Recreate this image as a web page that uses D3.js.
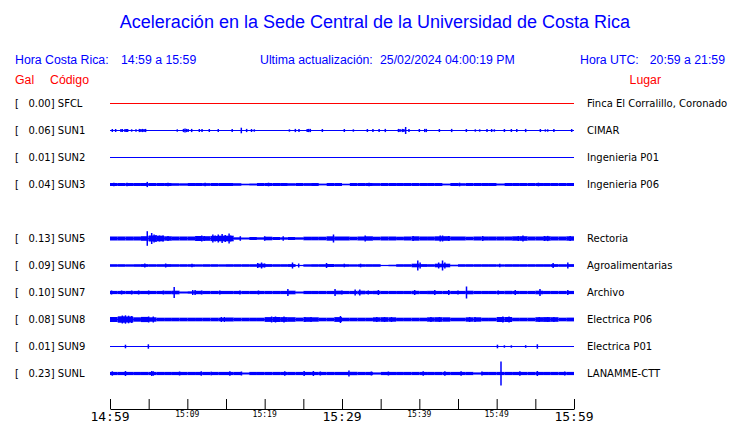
<!DOCTYPE html>
<html><head><meta charset="utf-8">
<script src="https://cdn.jsdelivr.net/npm/d3@7/dist/d3.min.js"></script>
<style>
html,body{margin:0;padding:0;background:#fff;}
svg text{white-space:pre;}
</style></head>
<body>
<svg id="chart" width="740" height="423"></svg>
<script>
// ---------- DATA ----------
const title = "Aceleración en la Sede Central de la Universidad de Costa Rica";
const headerLeft = ["Hora Costa Rica:", "14:59 a 15:59"];
const headerMid = ["Ultima actualización:", "25/02/2024 04:00:19 PM"];
const headerRight = ["Hora UTC:", "20:59 a 21:59"];
const colHeaders = ["Gal", "Código", "Lugar"];

const rowSlots = ["SFCL","SUN1","SUN2","SUN3","SUN4","SUN5","SUN6","SUN7","SUN8","SUN9","SUNL"];
const codes  = ["SFCL","SUN1","SUN2","SUN3","SUN5","SUN6","SUN7","SUN8","SUN9","SUNL"];
const gal    = [0.00, 0.06, 0.01, 0.04, 0.13, 0.09, 0.10, 0.08, 0.01, 0.23];
const places = ["Finca El Corralillo, Coronado","CIMAR","Ingenieria P01","Ingenieria P06",
                "Rectoria","Agroalimentarias","Archivo","Electrica P06","Electrica P01","LANAMME-CTT"];
const traceColors = ["#ff0000","#0000ff","#0000ff","#0000ff","#0000ff","#0000ff","#0000ff","#0000ff","#0000ff","#0000ff"];

const tickMinutes = [0,5,10,15,20,25,30,35,40,45,50,55,60];
const labelMinutes = [0,10,20,30,40,50,60];
const tickLabels = ["14:59","15:09","15:19","15:29","15:39","15:49","15:59"];
const majorLabels = ["14:59","15:29","15:59"];

// envelope: half-amplitude per minute (relative units), minutes 0..59
const envSFCL = [0,0,0,0,0,0,0,0,0,0, 0,0,0,0,0,0,0,0,0,0, 0,0,0,0,0,0,0,0,0,0, 0,0,0,0,0,0,0,0,0,0, 0,0,0,0,0,0,0,0,0,0, 0,0,0,0,0,0,0,0,0,0];
const envSUN1 = [0,0,0,0,0,0,0,0,0,0, 0,0,0,0,0,0,0,0,0,0, 0,0,0,0,0,0,0,0,0,0, 0,0,0,0,0,0,0,0,0,0, 0,0,0,0,0,0,0,0,0,0, 0,0,0,0,0,0,0,0,0,0];
const envSUN2 = [0,0,0,0,0,0,0,0,0,0, 0,0,0,0,0,0,0,0,0,0, 0,0,0,0,0,0,0,0,0,0, 0,0,0,0,0,0,0,0,0,0, 0,0,0,0,0,0,0,0,0,0, 0,0,0,0,0,0,0,0,0,0];
const envSUN3 = [1.5,1.5,1.5,1.5,1.5,1.5,1.5,1.5,1.3,1.2, 1.5,1.5,1.4,1.5,1.5,1.5,1.3,0.8,1.0,1.5, 1.5,1.5,1.5,1.3,1.5,1.4,1.5,0.9,1.5,1.5, 0.8,1.5,1.5,1.5,1.4,1.5,1.5,1.5,1.5,1.5, 1.5,1.5,1.5,0.9,1.5,1.3,1.5,1.5,1.5,1.5, 1.0,1.5,1.5,1.5,1.5,1.5,1.5,1.5,1.5,1.5];
const envSUN5 = [2.0,2.0,2.0,2.0,2.3,3.0,2.8,2.2,2.0,2.0, 2.0,2.5,2.3,2.6,2.8,2.8,1.2,1.0,1.5,1.2, 1.8,1.5,1.2,1.5,1.2,1.8,1.8,1.8,2.2,2.0, 2.0,1.8,2.0,2.2,1.8,2.0,2.0,1.8,2.0,2.2, 2.0,2.0,2.2,2.3,2.0,2.0,1.8,2.0,2.0,2.0, 2.0,2.0,2.2,2.3,2.0,2.0,2.2,2.0,2.0,2.2];
const envSUN6 = [1.3,1.3,1.2,1.3,1.4,1.3,1.3,1.4,1.3,1.3, 1.3,1.2,1.3,1.3,1.2,1.3,1.3,1.3,1.3,1.8, 1.4,1.3,1.3,1.4,0.6,1.2,1.3,1.3,1.5,1.3, 1.3,1.2,1.3,1.3,1.3,0.6,0.8,1.3,1.3,1.8, 1.4,1.3,1.8,1.8,0.8,1.3,1.3,1.3,1.3,1.3, 1.2,1.3,1.3,1.3,1.3,1.3,1.3,1.4,1.3,1.4];
const envSUN7 = [1.6,1.6,1.6,1.6,1.6,1.6,1.6,1.7,1.8,1.0, 1.2,1.7,1.6,1.6,1.6,1.6,1.6,1.6,1.6,1.6, 1.6,1.6,1.6,1.8,1.0,1.6,1.6,1.6,1.6,1.8, 1.6,1.6,1.8,1.6,1.7,1.6,1.6,1.6,1.6,1.7, 1.6,1.7,1.6,1.6,1.6,1.6,1.8,1.6,1.6,1.6, 1.6,1.7,1.6,1.6,1.6,1.8,1.6,1.6,1.6,1.6];
const envSUN8 = [2.5,3.2,3.0,2.2,2.6,2.2,1.8,1.8,1.8,1.8, 1.8,1.8,1.8,1.8,1.8,2.0,1.8,1.8,1.8,1.8, 2.4,2.5,2.4,2.3,1.9,2.3,2.2,1.8,1.8,2.4, 1.8,1.8,1.8,1.8,2.2,2.3,2.2,1.8,1.8,1.8, 1.8,2.2,2.3,2.2,1.8,1.8,2.2,2.2,1.8,1.8, 2.5,2.5,1.8,1.8,1.8,2.3,2.4,2.3,1.8,1.9];
const envSUN9 = [0,0,0,0,0,0,0,0,0,0, 0,0,0,0,0,0,0,0,0,0, 0,0,0,0,0,0,0,0,0,0, 0,0,0,0,0,0,0,0,0,0, 0,0,0,0,0,0,0,0,0,0, 0,0,0,0,0,0,0,0,0,0];
const envSUNL = [1.6,1.6,1.6,1.6,1.6,1.6,1.6,1.6,1.6,1.6, 1.6,1.6,1.6,1.6,1.6,1.6,1.6,1.0,1.6,1.6, 1.6,1.6,1.6,1.6,1.6,1.6,1.6,1.6,1.6,1.6, 1.6,1.7,1.6,1.6,1.1,1.6,1.6,1.6,1.6,1.6, 1.6,1.6,1.6,1.6,1.6,1.6,1.6,1.1,1.6,1.6, 1.6,1.6,1.6,1.6,1.6,1.6,1.6,1.6,1.6,1.6];

// spikes: [minute, half-amplitude]
const spkSFCL = [];
const spkSUN1 = [[0.3,1.5],[0.73,1.5],[1.42,1.5],[1.6,1.5],[1.94,1.5],[2.1,1.5],[2.28,1.5],[2.8,1.2],[3.36,1.2],
  [3.8,1.6],[4.0,1.6],[4.2,1.6],[4.4,1.6],[4.6,1.6],[8.7,1.2],[9.5,1.6],[9.7,2],[9.9,1.6],[10.1,1.6],[10.56,1.6],
  [11.55,1.5],[11.9,1.5],[12.84,1.5],[14.0,1.5],[15.8,1.5],[16.98,2.8],[17.67,1.6],[18.3,1.5],[18.66,1.2],
  [23.2,1.2],[23.97,1.6],[24.44,1.6],[25.5,1.6],[25.7,1.6],[25.9,1.6],[27.46,1.5],[30.3,1.5],[31.47,1.2],
  [33.28,1.5],[34.0,1.6],[34.8,1.5],[35.6,1.6],[37.3,1.6],[37.5,1.6],[37.8,1.6],[38.0,1.6],[38.23,3.5],[38.66,1.6],
  [40.0,1.5],[40.7,1.6],[40.9,1.6],[42.59,1.5],[44.18,1.6],[46.08,1.5],[47.24,1.2],[47.8,1.2],[48.75,1.6],
  [49.35,1.5],[49.7,1.2],[51.0,1.5],[51.9,1.5],[52.6,1.6],[53.75,1.6],[55.65,1.5],[56.3,1.2],[56.6,1.2],[57.4,1.6],[59.7,1.5]];
const spkSUN2 = [];
const spkSUN3 = [[4.82,2.6],[0.5,1.8],[2.2,1.8],[7.5,1.8],[12.3,1.8],[20.5,1.8],[33.5,1.8],[45.2,1.8],[55.4,1.8]];
const spkSUN5 = [[4.82,7.3],[5.39,5.5],[5.7,4],[5.95,3.5],[6.4,3],[6.85,3],[7.5,2.5],[11.86,3],[12.2,2.5],
  [13.3,4],[13.6,3],[14.0,4],[14.5,4.5],[14.9,3.5],[15.4,5],[15.6,3],[16.85,2.3],[20.0,2.3],[22.4,2.3],
  [28.9,4],[33.0,3],[39.2,2.5],[42.7,3],[43.0,3],[43.8,2.5],[48.2,2.5],[52.8,2.5],[53.4,3],[56.2,2.5],[56.6,2.6],[59.5,2.5]];
const spkSUN6 = [[4.5,2],[7.2,2],[10.6,1.8],[19.1,2.5],[19.6,3],[20.0,2],[23.6,3],[24.4,2],[28.0,2.5],[30.3,1.8],
  [32.4,1.8],[39.8,5],[40.1,3],[42.5,3],[43.0,5],[43.3,3],[50.4,1.8],[57.3,2.5],[59.2,3]];
const spkSUN7 = [[0.2,2],[1.5,2],[2.8,2],[3.7,2],[5.0,2],[6.9,2],[8.3,5.5],[10.7,2.5],[11.0,2.5],[11.85,2],
  [14.2,2],[16.8,2],[19.2,2],[23.0,3.5],[29.1,3.5],[30.0,2],[31.7,3],[32.3,3],[33.4,2],[34.7,2.5],[39.4,2.5],
  [42.0,2.5],[43.8,2.5],[45.0,2],[46.1,6],[50.2,2],[52.4,2.5],[55.6,3.5],[59.2,2.5]];
const spkSUN8 = [[1.6,4],[2.0,4.2],[2.4,3.8],[2.8,3.5],[5.0,3],[5.6,3],[14.4,2.5],[14.8,2.5],[20.9,3],[21.4,3],
  [22.5,3],[25.2,2.5],[26.0,2.5],[29.8,3.5],[34.5,2.5],[35.5,2.5],[36.4,2.5],[41.5,2.5],[42.6,2.5],[46.5,2.5],
  [47.2,2.5],[50.8,3],[51.6,3],[55.5,2.5],[56.6,2.5],[57.4,2.5]];
const spkSUN9 = [[2.0,1.8],[4.96,2.2],[50.1,1.8],[51.0,1.2],[51.9,1.2],[53.75,1.3],[55.26,2.2]];
const spkSUNL = [[0.3,2.2],[2.0,2.5],[5.4,2.5],[5.6,2.2],[9.0,2],[11.8,2.2],[13.1,1.8],[15.5,2.2],[17.0,2],
  [22.6,2.2],[25.1,2.5],[26.3,2.5],[27.2,2],[30.9,3],[33.8,2],[36.0,2],[40.5,2.2],[43.3,2.2],[45.4,2.2],
  [48.1,2],[50.56,12],[53.0,2.2],[55.26,2.5],[58.8,2]];

const envs   = [envSFCL,envSUN1,envSUN2,envSUN3,envSUN5,envSUN6,envSUN7,envSUN8,envSUN9,envSUNL];
const spikes = [spkSFCL,spkSUN1,spkSUN2,spkSUN3,spkSUN5,spkSUN6,spkSUN7,spkSUN8,spkSUN9,spkSUNL];

// ---------- DRAW ----------
const svg = d3.select("#chart");
const x = d3.scaleLinear().domain([0, 60]).range([110, 574]);
const y = d3.scalePoint().domain(rowSlots).range([103.5, 373.5]);
const amp = d3.scaleLinear().domain([0, 10]).range([0, 10]);

svg.append("text").attr("x", 375).attr("y", 28).attr("text-anchor", "middle")
  .attr("font-family", "Liberation Sans, Arial, sans-serif").attr("font-size", 18)
  .attr("fill", "#0000ff").text(title);

const hf = "Liberation Sans, Arial, sans-serif";
function htext(xp, yp, t, col, anchor) {
  svg.append("text").attr("x", xp).attr("y", yp).attr("font-family", hf).attr("font-size", 12.3)
    .attr("fill", col).attr("text-anchor", anchor || "start").text(t);
}
htext(15, 64, headerLeft[0], "#0000ff"); htext(121, 64, headerLeft[1], "#0000ff");
htext(260, 64, headerMid[0], "#0000ff"); htext(380, 64, headerMid[1], "#0000ff");
htext(580, 64, headerRight[0], "#0000ff"); htext(725, 64, headerRight[1], "#0000ff", "end");
htext(15, 84, colHeaders[0], "#ff0000"); htext(50, 84, colHeaders[1], "#ff0000");
htext(661, 84, colHeaders[2], "#ff0000", "end");

const rows = svg.append("g");
codes.forEach((c, i) => {
  const yc = y(c);
  const col = traceColors[i];
  const g = rows.append("g");
  g.append("text").attr("x", 15).attr("y", yc + 3.5)
    .attr("font-family", "DejaVu Sans, sans-serif").attr("font-size", 10).attr("fill", "#000")
    .text("[   " + gal[i].toFixed(2) + "] " + c);
  g.append("text").attr("x", 587).attr("y", yc + 3.5)
    .attr("font-family", "DejaVu Sans, sans-serif").attr("font-size", 10).attr("fill", "#000")
    .text(places[i]);
  g.selectAll("rect.env").data(envs[i].map((v, m) => ({m, v})).filter(d => d.v > 0))
    .enter().append("rect").attr("class", "env")
    .attr("x", d => x(d.m)).attr("width", d => x(d.m + 1) - x(d.m))
    .attr("y", d => yc - amp(d.v)).attr("height", d => 2 * amp(d.v))
    .attr("fill", col);
  g.append("line").attr("x1", x(0)).attr("x2", x(60)).attr("y1", yc).attr("y2", yc)
    .attr("stroke", col).attr("stroke-width", 1);
  g.selectAll("line.spk").data(spikes[i]).enter().append("line").attr("class", "spk")
    .attr("x1", d => x(d[0])).attr("x2", d => x(d[0]))
    .attr("y1", d => yc - amp(d[1])).attr("y2", d => yc + amp(d[1]))
    .attr("stroke", col).attr("stroke-width", 1.5);
});

// axis
const axis = d3.axisBottom(x).tickValues(tickMinutes).tickSizeInner(-10).tickSizeOuter(0).tickFormat("");
const ag = svg.append("g").attr("transform", "translate(0,409)").call(axis);
ag.selectAll("path,line").attr("stroke", "#000").attr("stroke-width", 1);

labelMinutes.forEach((m, i) => {
  const big = majorLabels.includes(tickLabels[i]);
  svg.append("text").attr("x", x(m)).attr("y", big ? 421 : 416.5).attr("text-anchor", "middle")
    .attr("font-family", "DejaVu Sans Mono, monospace").attr("font-size", big ? 13 : 8)
    .attr("fill", "#000").text(tickLabels[i]);
});
</script>
</body></html>
